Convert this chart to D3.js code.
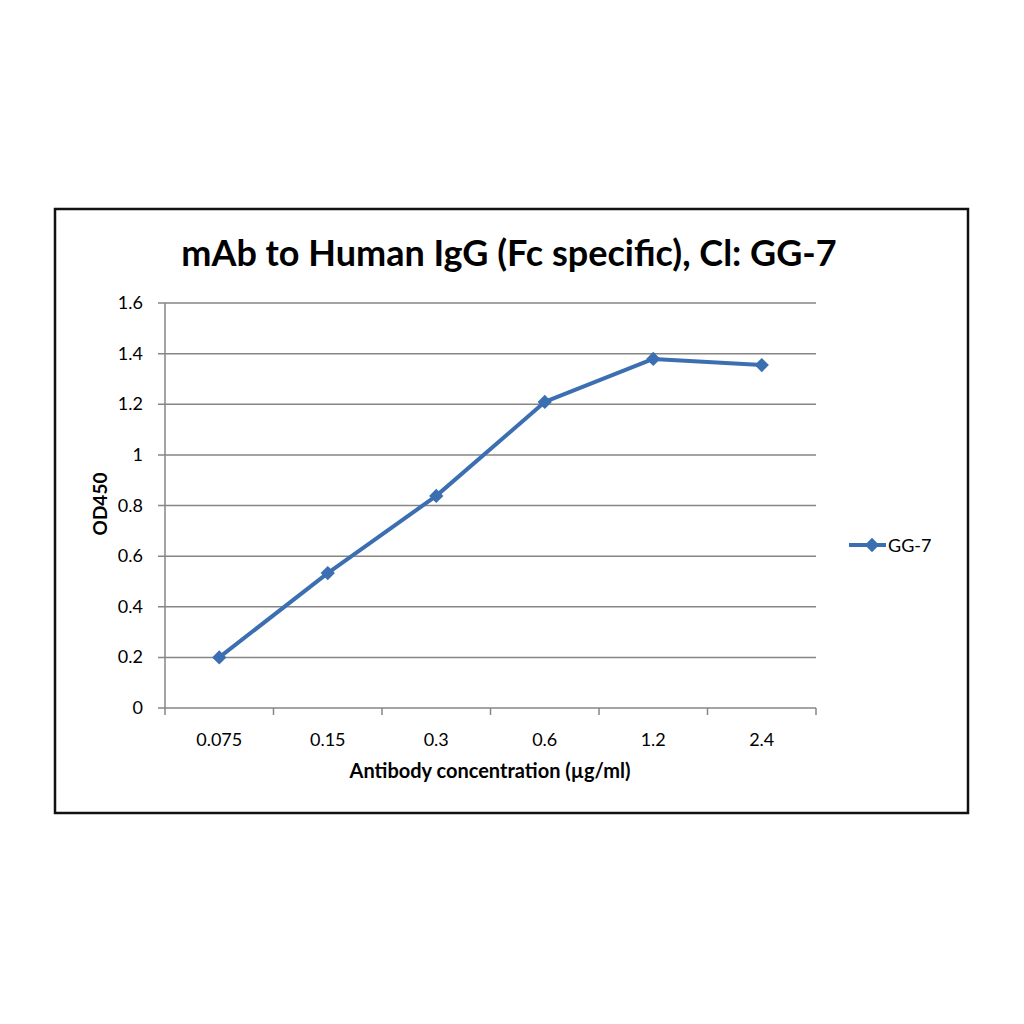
<!DOCTYPE html>
<html>
<head>
<meta charset="utf-8">
<script src="https://cdn.jsdelivr.net/npm/d3@7"></script>
<style>
  body { margin: 0; background: #fff; }
  text { font-family: Lato, "Open Sans", sans-serif; fill: #000; }
</style>
</head>
<body>
<div id="chart"></div>
<script>
var concentrations = ["0.075", "0.15", "0.3", "0.6", "1.2", "2.4"];
var od450 = [0.2, 0.533, 0.838, 1.209, 1.379, 1.355];
var yTicks = [0, 0.2, 0.4, 0.6, 0.8, 1, 1.2, 1.4, 1.6];
var seriesName = "GG-7";

var blue = "#3b6fb1";

var svg = d3.select("#chart").append("svg")
  .attr("width", 1024)
  .attr("height", 1024);

// outer frame
svg.append("rect")
  .attr("x", 55).attr("y", 209)
  .attr("width", 913).attr("height", 604)
  .attr("fill", "#fff")
  .attr("stroke", "#111")
  .attr("stroke-width", 2.5);

var plotLeft = 165, plotRight = 816, plotTop = 303, plotBottom = 708;

var x = d3.scaleBand().domain(concentrations).range([plotLeft, plotRight]);
var y = d3.scaleLinear().domain([0, 1.6]).range([plotBottom, plotTop]);

// gridlines
svg.append("g").selectAll("line")
  .data(yTicks)
  .enter().append("line")
  .attr("x1", plotLeft - 7).attr("x2", plotRight)
  .attr("y1", function(d) { return y(d); })
  .attr("y2", function(d) { return y(d); })
  .attr("stroke", "#868686")
  .attr("stroke-width", 1.5);

// y axis line
svg.append("line")
  .attr("x1", plotLeft).attr("x2", plotLeft)
  .attr("y1", plotTop).attr("y2", plotBottom)
  .attr("stroke", "#868686").attr("stroke-width", 1.5);

// y tick labels
svg.append("g").selectAll("text")
  .data(yTicks)
  .enter().append("text")
  .attr("x", plotLeft - 22)
  .attr("y", function(d) { return y(d) + 6; })
  .attr("text-anchor", "end")
  .style("font-size", "18px")
  .text(function(d) { return d; });

// x tick marks at band edges
var edges = concentrations.map(function(c) { return x(c); }).concat([plotRight]);
svg.append("g").selectAll("line")
  .data(edges)
  .enter().append("line")
  .attr("x1", function(d) { return d; })
  .attr("x2", function(d) { return d; })
  .attr("y1", plotBottom).attr("y2", plotBottom + 7)
  .attr("stroke", "#868686").attr("stroke-width", 1.5);

// x tick labels
svg.append("g").selectAll("text")
  .data(concentrations)
  .enter().append("text")
  .attr("x", function(d) { return x(d) + x.bandwidth() / 2; })
  .attr("y", plotBottom + 38)
  .attr("text-anchor", "middle")
  .style("font-size", "18px")
  .text(function(d) { return d; });

// series line
var points = concentrations.map(function(c, i) { return [x(c) + x.bandwidth() / 2, y(od450[i])]; });

svg.append("path")
  .datum(points)
  .attr("d", d3.line())
  .attr("fill", "none")
  .attr("stroke", blue)
  .attr("stroke-width", 4)
  .attr("stroke-linejoin", "round");

var diamond = d3.symbol().type(d3.symbolDiamond2).size(130);

svg.append("g").selectAll("path")
  .data(points)
  .enter().append("path")
  .attr("d", diamond)
  .attr("transform", function(d) { return "translate(" + d[0] + "," + d[1] + ")"; })
  .attr("fill", blue);

// title
svg.append("text")
  .attr("x", 509).attr("y", 266)
  .attr("text-anchor", "middle")
  .style("font-size", "36px")
  .style("font-weight", "bold")
  .text("mAb to Human IgG (Fc specific), Cl: GG-7");

// axis titles
svg.append("text")
  .attr("x", 490).attr("y", 778)
  .attr("text-anchor", "middle")
  .style("font-size", "20px")
  .style("font-weight", "bold")
  .text("Antibody concentration (\u00b5g/ml)");

svg.append("text")
  .attr("transform", "translate(107,504) rotate(-90)")
  .attr("text-anchor", "middle")
  .style("font-size", "19px")
  .style("font-weight", "bold")
  .text("OD450");

// legend
var legend = svg.append("g").attr("transform", "translate(849,545)");
legend.append("line")
  .attr("x1", 0).attr("x2", 37)
  .attr("stroke", blue).attr("stroke-width", 4);
legend.append("path")
  .attr("d", diamond)
  .attr("transform", "translate(23,0)")
  .attr("fill", blue);
legend.append("text")
  .attr("x", 39).attr("y", 7)
  .style("font-size", "18px")
  .text(seriesName);
</script>
</body>
</html>
